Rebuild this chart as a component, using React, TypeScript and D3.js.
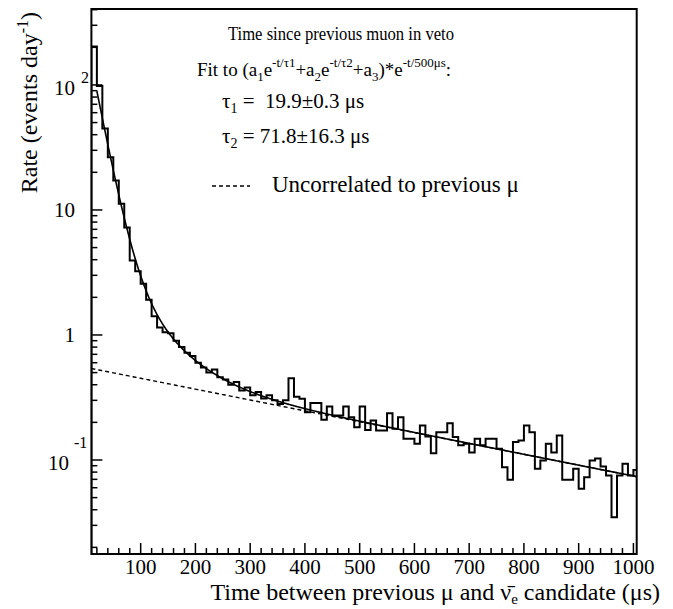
import React from "react";
import * as d3 from "d3";

// ---- data ----
const binStart = 10;
const binWidth = 10;
const rates = [
  203, 98, 44.8, 26.4, 17.2, 11.2, 7.24, 3.94, 3.24, 2.57,
  1.91, 1.41, 1.15, 1.05, 1.03, 0.9, 0.8, 0.72, 0.68, 0.6,
  0.55, 0.5, 0.53, 0.46, 0.44, 0.4, 0.42, 0.36, 0.38, 0.33,
  0.35, 0.31, 0.33, 0.3, 0.28, 0.3, 0.45, 0.32, 0.309, 0.241,
  0.285, 0.285, 0.21, 0.268, 0.227, 0.227, 0.268, 0.22, 0.183, 0.268,
  0.174, 0.207, 0.172, 0.172, 0.237, 0.178, 0.22, 0.148, 0.148, 0.135,
  0.189, 0.154, 0.113, 0.167, 0.167, 0.197, 0.153, 0.131, 0.135, 0.115,
  0.148, 0.131, 0.148, 0.148, 0.123, 0.0876, 0.0694, 0.139, 0.143, 0.189,
  0.167, 0.085, 0.099, 0.135, 0.115, 0.157, 0.0694, 0.0694, 0.085, 0.0588,
  0.0729, 0.099, 0.103, 0.0887, 0.0752, 0.0349, 0.0752, 0.0932, 0.0752, 0.083,
];
// fit parameters
const a1 = 240, tau1 = 19.9, a2 = 6.04, tau2 = 71.8, a3 = 0.55, tauBg = 500;
const fitStart = 20;

const xDomain = [10, 1006];
const yDomain = [0.0177, 405];
const xMajorTicks = [100, 200, 300, 400, 500, 600, 700, 800, 900, 1000];
const yMajorTicks = [
  { v: 100, base: "10", exp: "2" },
  { v: 10, base: "10", exp: "" },
  { v: 1, base: "1", exp: "" },
  { v: 0.1, base: "10", exp: "-1" },
];

const FONT = "'Liberation Serif', 'Times New Roman', serif";
const W = 673, H = 609;
const L = 91.4, R = 636.7, T = 9, B = 554;

export default function App() {
  const x = d3.scaleLinear().domain(xDomain).range([L, R]);
  const y = d3.scaleLog().domain(yDomain).range([B, T]);

  // histogram step path
  let hp = `M${x(binStart)},${B}`;
  rates.forEach((v, i) => {
    const x0 = x(binStart + i * binWidth);
    const x1 = x(binStart + (i + 1) * binWidth);
    hp += `L${x0},${y(v)}L${x1},${y(v)}`;
  });
  hp += `L${x(binStart + rates.length * binWidth)},${B}`;

  const fit = (t: number) =>
    (a1 * Math.exp(-t / tau1) + a2 * Math.exp(-t / tau2) + a3) * Math.exp(-t / tauBg);
  const bg = (t: number) => a3 * Math.exp(-t / tauBg);
  const ts = d3.range(fitStart, xDomain[1] + 0.01, 1);
  const fitPath = d3.line<number>().x((t) => x(t)).y((t) => y(fit(t)))(ts) as string;
  const tsb = d3.range(xDomain[0], xDomain[1] + 0.01, 2);
  const bgPath = d3.line<number>().x((t) => x(t)).y((t) => y(bg(t)))(tsb) as string;

  const xMinor = d3.range(20, 1001, 20).filter((v) => v % 100 !== 0);
  const yMinor: number[] = [];
  [0.01, 0.1, 1, 10, 100].forEach((d) => {
    for (let k = 2; k <= 9; k++) {
      const v = k * d;
      if (v > yDomain[0] && v < yDomain[1]) yMinor.push(v);
    }
  });

  const sub = (s: string, fs = 13) => (
    <tspan fontSize={fs} dy={5}>{s}</tspan>
  );

  return (
    <svg width={W} height={H} style={{ position: "absolute", left: 0, top: 0, background: "#fff" }}
      fontFamily={FONT}>
      <defs>
        <clipPath id="plot">
          <rect x={L} y={T} width={R - L} height={B - T} />
        </clipPath>
      </defs>
      <rect width={W} height={H} fill="#fff" />
      <g clipPath="url(#plot)">
        <path d={bgPath} fill="none" stroke="#000" strokeWidth={1.4} strokeDasharray="4,3" />
        <path d={hp} fill="none" stroke="#000" strokeWidth={2} />
        <path d={fitPath} fill="none" stroke="#000" strokeWidth={1.6} />
      </g>
      {/* frame */}
      <rect x={L} y={T} width={R - L} height={B - T} fill="none" stroke="#000" strokeWidth={2} />
      {/* x ticks */}
      {xMajorTicks.map((v) => (
        <g key={"xm" + v}>
          <line x1={x(v)} x2={x(v)} y1={B} y2={B - 11} stroke="#000" strokeWidth={1.5} />
          <text x={x(v)} y={574} fontSize={21} textAnchor="middle">{v}</text>
        </g>
      ))}
      {xMinor.map((v) => (
        <line key={"xn" + v} x1={x(v)} x2={x(v)} y1={B} y2={B - 6} stroke="#000" strokeWidth={1.5} />
      ))}
      {/* y ticks */}
      {yMajorTicks.map((t) => (
        <g key={"ym" + t.v}>
          <line x1={L} x2={L + 11} y1={y(t.v)} y2={y(t.v)} stroke="#000" strokeWidth={1.5} />
          {t.exp === "" ? (
            <text x={75} y={y(t.v) + 7} fontSize={21} textAnchor="end">{t.base}</text>
          ) : t.exp === "2" ? (
            <g>
              <text x={75} y={y(t.v) + 10} fontSize={21} textAnchor="end">{t.base}</text>
              <text x={81} y={y(t.v) - 2} fontSize={16}>{t.exp}</text>
            </g>
          ) : (
            <g>
              <text x={69} y={y(t.v) + 10} fontSize={21} textAnchor="end">{t.base}</text>
              <text x={74} y={y(t.v) - 12} fontSize={16}>{t.exp}</text>
            </g>
          )}
        </g>
      ))}
      {yMinor.map((v) => (
        <line key={"yn" + v} x1={L} x2={L + 6} y1={y(v)} y2={y(v)} stroke="#000" strokeWidth={1.5} />
      ))}
      {/* axis titles */}
      <text x={660} y={600} fontSize={24} textAnchor="end">
        Time between previous μ and ν̄<tspan fontSize={15} dy={4}>e</tspan><tspan dy={-4}> candidate (μs)</tspan>
      </text>
      <text transform="translate(37,12) rotate(-90)" fontSize={24} textAnchor="end">
        Rate (events day<tspan fontSize={16} dy={-9}>-1</tspan><tspan dy={9}>)</tspan>
      </text>
      {/* legend */}
      <text x={228} y={40} fontSize={18.5} textLength={226} lengthAdjust="spacingAndGlyphs">Time since previous muon in veto</text>
      <text x={197} y={76} fontSize={19}>
        Fit to (a{sub("1")}<tspan dy={-5}>e</tspan>
        <tspan fontSize={13} dy={-9}>-t/τ1</tspan>
        <tspan dy={9}>+a</tspan>{sub("2")}<tspan dy={-5}>e</tspan>
        <tspan fontSize={13} dy={-9}>-t/τ2</tspan>
        <tspan dy={9}>+a</tspan>{sub("3")}<tspan dy={-5}>)*e</tspan>
        <tspan fontSize={13} dy={-9}>-t/500μs</tspan>
        <tspan dy={9}>:</tspan>
      </text>
      <text x={222} y={108} fontSize={21} xmlSpace="preserve">
        τ{sub("1", 14)}<tspan dy={-5}>{" =  19.9±0.3 μs"}</tspan>
      </text>
      <text x={222} y={143} fontSize={21} xmlSpace="preserve">
        τ{sub("2", 14)}<tspan dy={-5}>{" = 71.8±16.3 μs"}</tspan>
      </text>
      <line x1={212} x2={250} y1={186} y2={186} stroke="#000" strokeWidth={1.4} strokeDasharray="4,3" />
      <text x={272} y={192} fontSize={23}>Uncorrelated to previous μ</text>
    </svg>
  );
}
